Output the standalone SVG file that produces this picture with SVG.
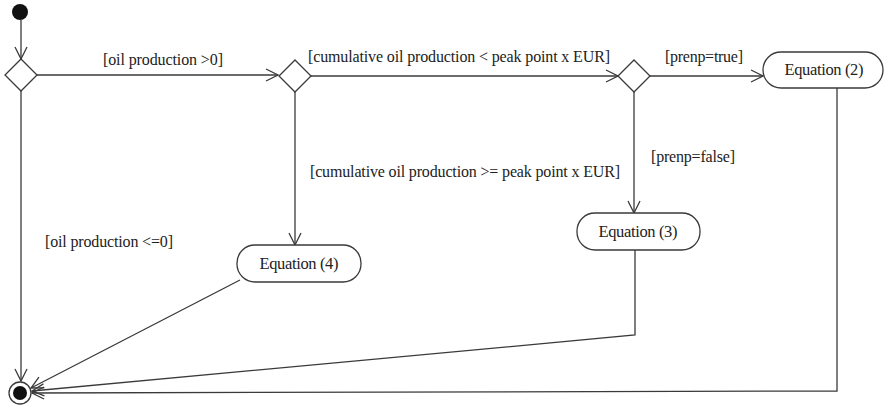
<svg xmlns="http://www.w3.org/2000/svg" width="885" height="411" viewBox="0 0 885 411">
<defs>
<style>
.ln{fill:none;stroke:#3a3a3a;stroke-width:1.3}
.nd{fill:#fff;stroke:#3a3a3a;stroke-width:1.3}
text{font-family:'Liberation Serif','Times New Roman',Times,serif;fill:#222}
.lb{font-size:16px}
.eq{font-size:16.5px;text-anchor:middle}
</style>
<marker id="arr" viewBox="0 0 14 14" refX="13" refY="7" markerWidth="14" markerHeight="14" markerUnits="userSpaceOnUse" orient="auto">
<path d="M1,1 L13,7 L1,13" fill="none" stroke="#3a3a3a" stroke-width="1.3"/>
</marker>
</defs>
<rect width="885" height="411" fill="#fff"/>
<g id="connectors">
<path class="ln" d="M21,20 L21,59" marker-end="url(#arr)"/>
<path class="ln" d="M37,75 L278,75" marker-end="url(#arr)"/>
<path class="ln" d="M311,76 L618,76" marker-end="url(#arr)"/>
<path class="ln" d="M650,76 L763,76" marker-end="url(#arr)"/>
<path class="ln" d="M634,92 L634,213" marker-end="url(#arr)"/>
<path class="ln" d="M295,92 L295,245" marker-end="url(#arr)"/>
<path class="ln" d="M21,91 L21,381" marker-end="url(#arr)"/>
<path class="ln" d="M240,280 L31,388" marker-end="url(#arr)"/>
<path class="ln" d="M635,250 L635,335 L32,391" marker-end="url(#arr)"/>
<path class="ln" d="M837,88 L837,391 L32,393" marker-end="url(#arr)"/>
<text class="lb" x="103" y="65" textLength="120">[oil production &gt;0]</text>
<text class="lb" x="308" y="62" textLength="302">[cumulative oil production &lt; peak point x EUR]</text>
<text class="lb" x="665" y="62" textLength="78">[prenp=true]</text>
<text class="lb" x="651" y="162" textLength="84">[prenp=false]</text>
<text class="lb" x="310" y="177" textLength="310">[cumulative oil production &gt;= peak point x EUR]</text>
<text class="lb" x="45" y="247" textLength="128">[oil production &lt;=0]</text>
</g>
<g id="start"><circle cx="20" cy="12" r="8" fill="#111"/></g>
<g id="decision1"><polygon class="nd" points="21,59 37,75 21,91 5,75"/></g>
<g id="decision2"><polygon class="nd" points="295,60 311,76 295,92 279,76"/></g>
<g id="decision3"><polygon class="nd" points="634,60 650,76 634,92 618,76"/></g>
<g id="eq2"><rect class="nd" x="763" y="52" width="120" height="36" rx="18"/><text class="eq" x="824" y="75" textLength="79">Equation (2)</text></g>
<g id="eq3"><rect class="nd" x="577" y="213" width="123" height="37" rx="18"/><text class="eq" x="638" y="237" textLength="79">Equation (3)</text></g>
<g id="eq4"><rect class="nd" x="237" y="245" width="124" height="37" rx="18"/><text class="eq" x="299" y="269" textLength="79">Equation (4)</text></g>
<g id="end"><circle class="nd" cx="20" cy="393" r="11"/><circle cx="20" cy="393" r="7" fill="#111"/></g>
</svg>
